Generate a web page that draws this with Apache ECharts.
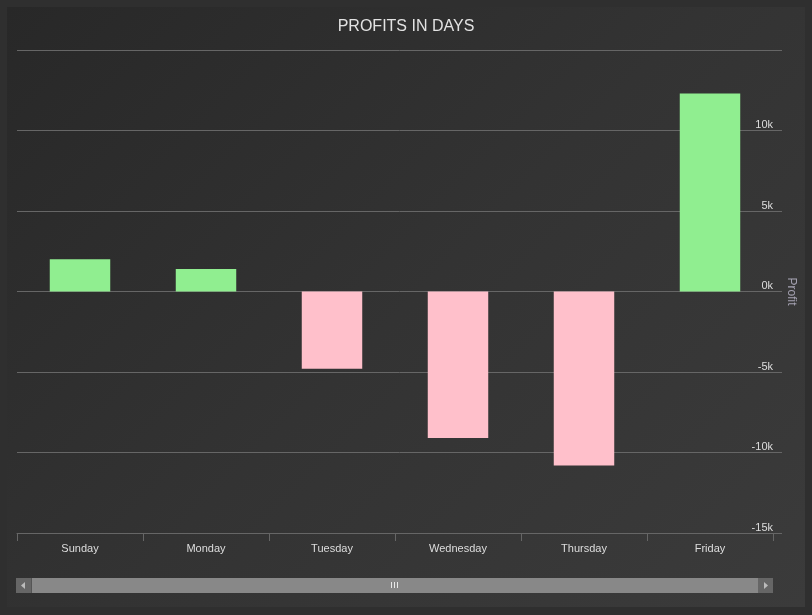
<!DOCTYPE html>
<html>
<head>
<meta charset="utf-8">
<script src="https://cdn.jsdelivr.net/npm/echarts@6/dist/echarts.min.js"></script>
<style>
    html, body { margin: 0; padding: 0; background: #2f2f2f; }
    #panel {
        position: absolute; left: 7px; top: 7px; width: 798px; height: 600px;
        background: linear-gradient(135deg, #282828 0%, #333333 50%, #3b3b3b 100%);
    }
    #main { position: absolute; left: 0; top: 0; width: 812px; height: 615px; }
</style>
</head>
<body>
<div id="panel"></div>
<div id="main"></div>
<script>
// data
var days = ['Sunday', 'Monday', 'Tuesday', 'Wednesday', 'Thursday', 'Friday'];
var profits = [2000, 1400, -4800, -9100, -10800, 12300];

var myChart = echarts.init(document.getElementById('main'));

var labelColor = '#dddddd';
var lineColor = '#666666';

var option = {
    backgroundColor: 'transparent',
    title: {
        text: 'PROFITS IN DAYS',
        left: 'center',
        top: 14,
        textStyle: {
            color: '#e2e2e2',
            fontSize: 16,
            fontWeight: 'normal',
            fontFamily: 'Liberation Sans, Arial, sans-serif'
        }
    },
    grid: [{
        // bars
        left: 17, right: 39, top: 50, bottom: 82
    }, {
        // grid lines run a bit further right than the category axis
        left: 17, right: 30, top: 50, bottom: 82
    }],
    xAxis: [{
        type: 'category',
        gridIndex: 0,
        data: days,
        axisLine: { show: true, onZero: false, lineStyle: { color: lineColor } },
        axisTick: { show: true, length: 8, lineStyle: { color: lineColor } },
        axisLabel: {
            color: labelColor,
            fontSize: 11,
            margin: 10,
            fontFamily: 'Liberation Sans, Arial, sans-serif'
        }
    }, {
        type: 'category',
        gridIndex: 1,
        data: days,
        show: false
    }],
    yAxis: [{
        type: 'value',
        gridIndex: 0,
        position: 'right',
        min: -15000,
        max: 15000,
        interval: 5000,
        name: 'Profit',
        nameLocation: 'middle',
        nameRotate: -90,
        nameGap: 12,
        nameTextStyle: {
            color: '#a6a3b3',
            fontSize: 12,
            fontFamily: 'Liberation Sans, Arial, sans-serif'
        },
        axisLine: { show: false },
        axisTick: { show: false },
        splitLine: { show: false },
        axisLabel: {
            inside: true,
            margin: 0,
            showMaxLabel: false,
            verticalAlign: 'bottom',
            color: labelColor,
            fontSize: 11,
            fontFamily: 'Liberation Sans, Arial, sans-serif',
            formatter: function (v) { return (v / 1000) + 'k'; }
        }
    }, {
        type: 'value',
        gridIndex: 1,
        min: -15000,
        max: 15000,
        interval: 5000,
        axisLine: { show: false },
        axisTick: { show: false },
        axisLabel: { show: false },
        splitLine: { show: true, lineStyle: { color: lineColor, width: 1 } }
    }],
    dataZoom: [{
        type: 'slider',
        xAxisIndex: 0,
        start: 0,
        end: 100,
        left: 31,
        right: 54,
        top: 578,
        height: 15,
        backgroundColor: '#606060',
        fillerColor: '#888888',
        borderColor: 'transparent',
        showDetail: false,
        showDataShadow: false,
        brushSelect: false,
        moveHandleSize: 0,
        handleSize: 0,
        handleStyle: { opacity: 0 },
        dataBackground: {
            lineStyle: { opacity: 0 },
            areaStyle: { opacity: 0 }
        },
        selectedDataBackground: {
            lineStyle: { opacity: 0 },
            areaStyle: { opacity: 0 }
        }
    }],
    graphic: [
        // scrollbar end buttons and grip
        { type: 'rect', z: 100, left: 16, top: 578, shape: { width: 15, height: 15 }, style: { fill: '#666666' } },
        { type: 'polygon', z: 101, shape: { points: [[25, 582], [21, 585.5], [25, 589]] }, style: { fill: '#bbbbbb' } },
        { type: 'rect', z: 100, left: 758, top: 578, shape: { width: 15, height: 15 }, style: { fill: '#666666' } },
        { type: 'polygon', z: 101, shape: { points: [[764, 582], [768, 585.5], [764, 589]] }, style: { fill: '#bbbbbb' } },
        { type: 'rect', z: 100, left: 391, top: 582, shape: { width: 1, height: 6 }, style: { fill: '#e8e8e8' } },
        { type: 'rect', z: 100, left: 394, top: 582, shape: { width: 1, height: 6 }, style: { fill: '#e8e8e8' } },
        { type: 'rect', z: 100, left: 397, top: 582, shape: { width: 1, height: 6 }, style: { fill: '#e8e8e8' } }
    ],
    series: [{
        name: 'Profit',
        type: 'bar',
        xAxisIndex: 0,
        yAxisIndex: 0,
        barWidth: '48%',
        data: profits,
        itemStyle: {
            color: function (p) { return p.value >= 0 ? '#90ee90' : '#ffc0cb'; }
        }
    }]
};

myChart.setOption(option);
</script>
</body>
</html>
